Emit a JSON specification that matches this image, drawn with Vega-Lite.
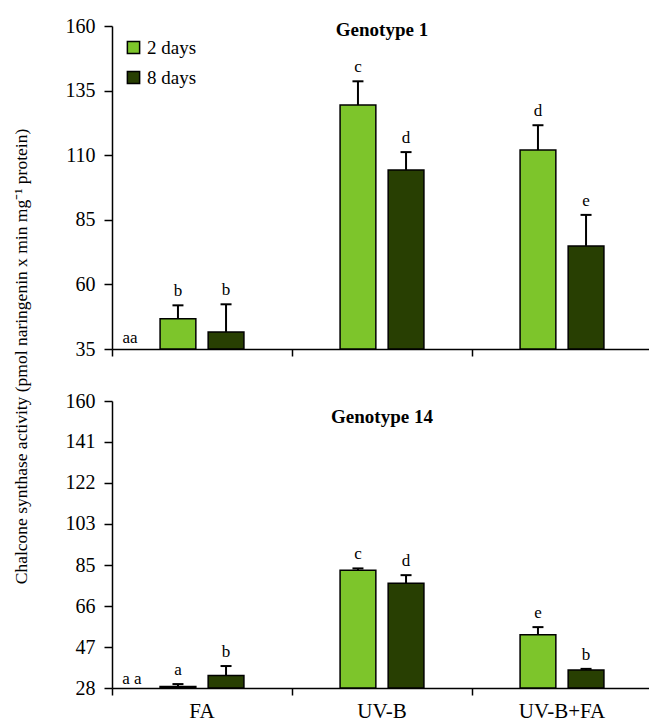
{
  "$schema": "https://vega.github.io/schema/vega-lite/v6.json",
  "padding": {"left": 12, "top": 16, "right": 1, "bottom": 0},
  "config": {
    "font": "Liberation Serif",
    "view": {"stroke": null},
    "axis": {"domainColor": "black", "domainWidth": 1.5, "tickColor": "black", "tickWidth": 1.5, "labelColor": "black", "labelFont": "Liberation Serif", "grid": false, "titleColor": "black", "titleFont": "Liberation Serif"},
    "text": {"font": "Liberation Serif", "color": "black"}
  },
  "datasets": {
    "means": [
      {"genotype": "Genotype 1", "treatment": "FA", "days": "2 days", "value": 46.7, "hi": 51.9, "label": "b"},
      {"genotype": "Genotype 1", "treatment": "FA", "days": "8 days", "value": 41.6, "hi": 52.3, "label": "b"},
      {"genotype": "Genotype 1", "treatment": "UV-B", "days": "2 days", "value": 129.4, "hi": 138.6, "label": "c"},
      {"genotype": "Genotype 1", "treatment": "UV-B", "days": "8 days", "value": 104.3, "hi": 111.2, "label": "d"},
      {"genotype": "Genotype 1", "treatment": "UV-B+FA", "days": "2 days", "value": 112.0, "hi": 121.6, "label": "d"},
      {"genotype": "Genotype 1", "treatment": "UV-B+FA", "days": "8 days", "value": 74.9, "hi": 86.9, "label": "e"},
      {"genotype": "Genotype 14", "treatment": "FA", "days": "2 days", "value": 28.7, "hi": 29.8, "label": "a"},
      {"genotype": "Genotype 14", "treatment": "FA", "days": "8 days", "value": 33.8, "hi": 38.1, "label": "b"},
      {"genotype": "Genotype 14", "treatment": "UV-B", "days": "2 days", "value": 82.2, "hi": 83.0, "label": "c"},
      {"genotype": "Genotype 14", "treatment": "UV-B", "days": "8 days", "value": 76.2, "hi": 79.9, "label": "d"},
      {"genotype": "Genotype 14", "treatment": "UV-B+FA", "days": "2 days", "value": 52.5, "hi": 56.0, "label": "e"},
      {"genotype": "Genotype 14", "treatment": "UV-B+FA", "days": "8 days", "value": 36.3, "hi": 36.8, "label": "b"}
    ],
    "controls": [
      {"genotype": "Genotype 1", "treatment": "FA", "label": "aa"},
      {"genotype": "Genotype 14", "treatment": "FA", "label": "a a"}
    ]
  },
  "spacing": 52,
  "bounds": "flush",
  "vconcat": [
    {
      "width": 540,
      "height": 323,
      "title": {"text": "Genotype 1", "fontSize": 19, "fontWeight": "bold", "color": "black", "anchor": "middle", "offset": -39, "baseline": "alphabetic", "font": "Liberation Serif"},
      "layer": [
        {
          "data": {"name": "means"},
          "transform": [{"filter": "datum.genotype === 'Genotype 1'"}],
          "mark": {"type": "bar", "stroke": "black", "strokeWidth": 1.5},
          "encoding": {
            "x": {"field": "treatment", "type": "nominal", "sort": ["FA", "UV-B", "UV-B+FA"], "scale": {"paddingInner": 0, "paddingOuter": 0},
                  "axis": {"title": null, "labels": false, "bandPosition": 0, "tickSize": 7}},
            "xOffset": {"field": "days", "type": "nominal", "sort": ["2 days", "8 days"], "scale": {"paddingInner": 0.256, "paddingOuter": 1.22}},
            "y": {"field": "value", "type": "quantitative", "scale": {"domain": [35, 160], "nice": false, "zero": false},
                  "axis": {"values": [35, 60, 85, 110, 135, 160], "title": "Chalcone synthase  activity (pmol naringenin x min mg⁻¹ protein)", "titleFontSize": 17.5, "titleFontWeight": "normal", "titleAlign": "center", "titleY": 330, "titlePadding": 35, "labelFontSize": 20, "tickSize": 8, "labelPadding": 9}},
            "y2": {"datum": 35},
            "color": {"field": "days", "type": "nominal", "scale": {"domain": ["2 days", "8 days"], "range": ["#7DC52B", "#283F02"]},
                      "legend": {"title": null, "orient": "top-left", "offset": 12, "labelFontSize": 19, "labelFont": "Liberation Serif", "labelColor": "black", "symbolType": "square", "symbolSize": 150, "symbolStrokeColor": "black", "symbolStrokeWidth": 1.5, "symbolOpacity": 1, "rowPadding": 10, "labelOffset": 4}}
          }
        },
        {
          "data": {"name": "means"},
          "transform": [{"filter": "datum.genotype === 'Genotype 1'"}],
          "mark": {"type": "rule", "color": "black", "strokeWidth": 2},
          "encoding": {
            "x": {"field": "treatment", "type": "nominal", "sort": ["FA", "UV-B", "UV-B+FA"]},
            "xOffset": {"field": "days", "type": "nominal", "sort": ["2 days", "8 days"]},
            "y": {"field": "value", "type": "quantitative"},
            "y2": {"field": "hi"}
          }
        },
        {
          "data": {"name": "means"},
          "transform": [{"filter": "datum.genotype === 'Genotype 1'"}],
          "mark": {"type": "tick", "color": "black", "thickness": 2, "size": 11, "opacity": 1},
          "encoding": {
            "x": {"field": "treatment", "type": "nominal", "sort": ["FA", "UV-B", "UV-B+FA"]},
            "xOffset": {"field": "days", "type": "nominal", "sort": ["2 days", "8 days"]},
            "y": {"field": "hi", "type": "quantitative"}
          }
        },
        {
          "data": {"name": "means"},
          "transform": [{"filter": "datum.genotype === 'Genotype 1'"}],
          "mark": {"type": "text", "fontSize": 17, "baseline": "alphabetic", "dy": -9, "color": "black"},
          "encoding": {
            "x": {"field": "treatment", "type": "nominal", "sort": ["FA", "UV-B", "UV-B+FA"]},
            "xOffset": {"field": "days", "type": "nominal", "sort": ["2 days", "8 days"]},
            "y": {"field": "hi", "type": "quantitative"},
            "text": {"field": "label"}
          }
        },
        {
          "data": {"name": "controls"},
          "transform": [{"filter": "datum.genotype === 'Genotype 1'"}],
          "mark": {"type": "text", "fontSize": 17, "baseline": "alphabetic", "dx": -72, "dy": -6, "color": "black"},
          "encoding": {
            "x": {"field": "treatment", "type": "nominal", "sort": ["FA", "UV-B", "UV-B+FA"]},
            "y": {"datum": 35},
            "text": {"field": "label"}
          }
        }
      ]
    },
    {
      "width": 540,
      "height": 287,
      "title": {"text": "Genotype 14", "fontSize": 19, "fontWeight": "bold", "color": "black", "anchor": "middle", "offset": -51, "baseline": "alphabetic", "font": "Liberation Serif"},
      "layer": [
        {
          "data": {"name": "means"},
          "transform": [{"filter": "datum.genotype === 'Genotype 14'"}],
          "mark": {"type": "bar", "stroke": "black", "strokeWidth": 1.5},
          "encoding": {
            "x": {"field": "treatment", "type": "nominal", "sort": ["FA", "UV-B", "UV-B+FA"], "scale": {"paddingInner": 0, "paddingOuter": 0},
                  "axis": {"title": null, "bandPosition": 0, "tickSize": 7, "labelAngle": 0, "labelFontSize": 21, "labelPadding": 5}},
            "xOffset": {"field": "days", "type": "nominal", "sort": ["2 days", "8 days"], "scale": {"paddingInner": 0.256, "paddingOuter": 1.22}},
            "y": {"field": "value", "type": "quantitative", "scale": {"domain": [28, 160], "nice": false, "zero": false},
                  "axis": {"values": [28, 46.857, 65.714, 84.571, 103.429, 122.286, 141.143, 160], "format": ".0f", "title": null, "labelFontSize": 20, "tickSize": 8, "labelPadding": 9}},
            "y2": {"datum": 28},
            "color": {"field": "days", "type": "nominal", "scale": {"domain": ["2 days", "8 days"], "range": ["#7DC52B", "#283F02"]}, "legend": null}
          }
        },
        {
          "data": {"name": "means"},
          "transform": [{"filter": "datum.genotype === 'Genotype 14'"}],
          "mark": {"type": "rule", "color": "black", "strokeWidth": 2},
          "encoding": {
            "x": {"field": "treatment", "type": "nominal", "sort": ["FA", "UV-B", "UV-B+FA"]},
            "xOffset": {"field": "days", "type": "nominal", "sort": ["2 days", "8 days"]},
            "y": {"field": "value", "type": "quantitative"},
            "y2": {"field": "hi"}
          }
        },
        {
          "data": {"name": "means"},
          "transform": [{"filter": "datum.genotype === 'Genotype 14'"}],
          "mark": {"type": "tick", "color": "black", "thickness": 2, "size": 11, "opacity": 1},
          "encoding": {
            "x": {"field": "treatment", "type": "nominal", "sort": ["FA", "UV-B", "UV-B+FA"]},
            "xOffset": {"field": "days", "type": "nominal", "sort": ["2 days", "8 days"]},
            "y": {"field": "hi", "type": "quantitative"}
          }
        },
        {
          "data": {"name": "means"},
          "transform": [{"filter": "datum.genotype === 'Genotype 14'"}],
          "mark": {"type": "text", "fontSize": 17, "baseline": "alphabetic", "dy": -9, "color": "black"},
          "encoding": {
            "x": {"field": "treatment", "type": "nominal", "sort": ["FA", "UV-B", "UV-B+FA"]},
            "xOffset": {"field": "days", "type": "nominal", "sort": ["2 days", "8 days"]},
            "y": {"field": "hi", "type": "quantitative"},
            "text": {"field": "label"}
          }
        },
        {
          "data": {"name": "controls"},
          "transform": [{"filter": "datum.genotype === 'Genotype 14'"}],
          "mark": {"type": "text", "fontSize": 17, "baseline": "alphabetic", "dx": -70, "dy": -4, "color": "black"},
          "encoding": {
            "x": {"field": "treatment", "type": "nominal", "sort": ["FA", "UV-B", "UV-B+FA"]},
            "y": {"datum": 28},
            "text": {"field": "label"}
          }
        }
      ]
    }
  ]
}
